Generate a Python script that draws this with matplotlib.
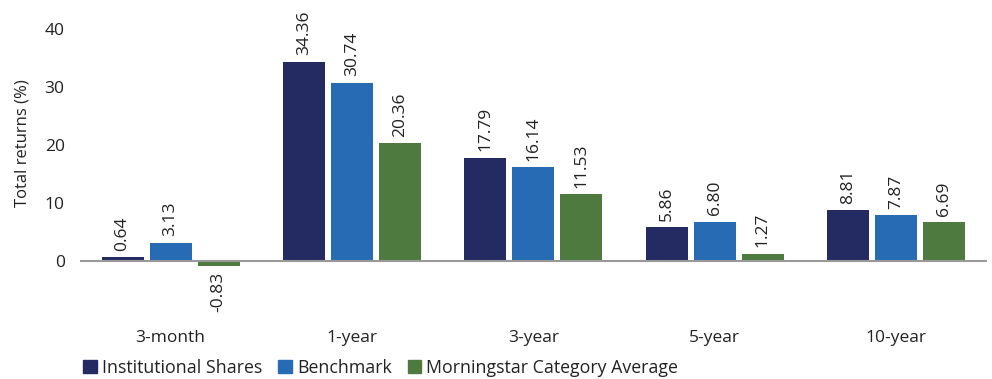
import numpy as np
import matplotlib
matplotlib.use("Agg")
import matplotlib.pyplot as plt
from matplotlib.patches import Patch

plt.rcParams['font.family'] = ['Open Sans', 'DejaVu Sans']

periods = ['3-month', '1-year', '3-year', '5-year', '10-year']
series = ['Institutional Shares', 'Benchmark', 'Morningstar Category Average']
inst = [0.64, 34.36, 17.79, 5.86, 8.81]
bench = [3.13, 30.74, 16.14, 6.80, 7.87]
morn = [-0.83, 20.36, 11.53, 1.27, 6.69]
colors = ['#242B63', '#276BB5', '#4E7A3F']
txt = '#222222'

fig = plt.figure(figsize=(9.92, 3.79), dpi=100)
# axes spans x 80..987 px, y from -8 to 42
ax = fig.add_axes([0.0806, 0.189, 0.914, 0.765])

x = np.arange(len(periods))
w = 0.232
step = 0.265
for i, (vals, c) in enumerate(zip([inst, bench, morn], colors)):
    xs = x + (i - 1) * step
    ax.bar(xs, vals, width=w, color=c)
    for xx, v in zip(xs, vals):
        if v >= 0:
            ax.text(xx, v + 1.1, f'{v:.2f}', rotation=90, ha='center', va='bottom',
                    fontsize=12.5, color=txt)
        else:
            ax.text(xx, v - 1.1, f'{v:.2f}', rotation=90, ha='center', va='top',
                    fontsize=12.5, color=txt)

ax.axhline(0, color='#999999', lw=1.5, zorder=3)
ax.set_xlim(-0.5, 4.5)
ax.set_ylim(-8, 42)
ax.set_yticks([0, 10, 20, 30, 40])
ax.set_xticks(x)
ax.set_xticklabels(periods)
for s in ax.spines.values():
    s.set_visible(False)
ax.tick_params(axis='both', length=0, labelsize=12.5, colors=txt)
ax.tick_params(axis='x', pad=16)
ax.tick_params(axis='y', pad=11)
ax.set_ylabel('Total returns (%)', fontsize=12, color=txt)
ax.yaxis.set_label_coords(-0.054, 0.567)

handles = [Patch(color=c, label=s) for c, s in zip(colors, series)]
fig.legend(handles=handles, loc='lower left', bbox_to_anchor=(0.068, -0.037), ncol=3,
           frameon=False, fontsize=12.8, handlelength=0.75, handleheight=0.75,
           handletextpad=0.3, columnspacing=0.9, labelcolor=txt)

fig.savefig('out.png', dpi=100)
